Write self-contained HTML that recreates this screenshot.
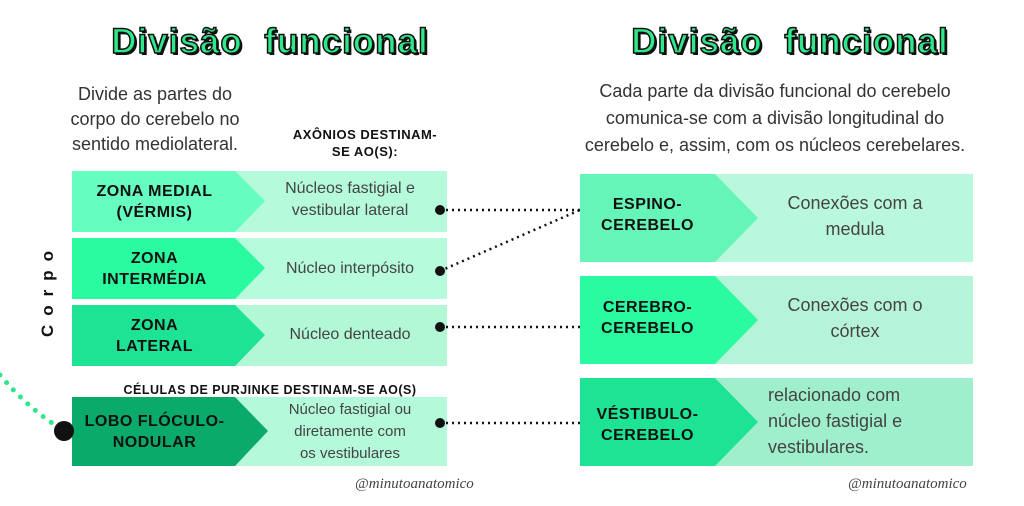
<html><head><style>
body{margin:0;width:1024px;height:506px;background:#fff;position:relative;overflow:hidden;font-family:"Liberation Sans",sans-serif}
.a{position:absolute}
.t{font-weight:bold;font-size:35px;color:#2ee88a;-webkit-text-stroke:1.5px #111;text-shadow:2px 2px 0 #111;letter-spacing:1px;text-align:center}
.p{font-size:18px;color:#333;text-align:center;line-height:25px}
.b{font-weight:bold;color:#111;text-align:center;font-size:16px;line-height:21px;letter-spacing:0.5px}
.r{font-size:16px;color:#444;text-align:center;line-height:22px}
</style></head><body>
<svg class="a" style="left:0;top:0" width="1024" height="506">
<g>
<rect x="72" y="171" width="375" height="61" fill="#b4fadb"/><polygon points="72,171 235,171 265,201 235,232 72,232" fill="#66fdc0"/>
<rect x="72" y="238" width="375" height="61" fill="#b6fbdc"/><polygon points="72,238 235,238 265,268 235,299 72,299" fill="#2afba0"/>
<rect x="72" y="305" width="375" height="61" fill="#b2f7d6"/><polygon points="72,305 235,305 265,335 235,366 72,366" fill="#1de394"/>
<rect x="72" y="397" width="375" height="69" fill="#b3f9da"/><polygon points="72,397 235,397 268,431 235,466 72,466" fill="#0aaa6a"/>
<rect x="580" y="174" width="393" height="88" fill="#b9f8dc"/><polygon points="580,174 715,174 758,218 715,262 580,262" fill="#66f5b8"/>
<rect x="580" y="276" width="393" height="88" fill="#b6f4d9"/><polygon points="580,276 715,276 758,320 715,364 580,364" fill="#2afba0"/>
<rect x="580" y="378" width="393" height="88" fill="#a0efcc"/><polygon points="580,378 715,378 758,422 715,466 580,466" fill="#1de394"/>
</g>
<g stroke="#111" stroke-width="2.5" stroke-dasharray="2 4" fill="none">
<line x1="440" y1="210" x2="580" y2="210"/>
<line x1="440" y1="271" x2="580" y2="210"/>
<line x1="440" y1="327" x2="580" y2="327"/>
<line x1="440" y1="423" x2="580" y2="423"/>
</g>
<g fill="#111"><circle cx="440" cy="210" r="5"/><circle cx="440" cy="271" r="5"/><circle cx="440" cy="327" r="5"/><circle cx="440" cy="423" r="5"/><circle cx="64" cy="431" r="10"/></g>
<path d="M0,375 Q25,405 55,425" stroke="#2ee88a" stroke-width="5" stroke-linecap="round" stroke-dasharray="0 10" fill="none"/>
</svg>
<div class="a t" style="left:60px;top:22px;width:420px">Divisão&nbsp; funcional</div>
<div class="a t" style="left:585px;top:22px;width:410px">Divisão&nbsp; funcional</div>
<div class="a p" style="left:45px;top:82px;width:220px">Divide as partes do<br>corpo do cerebelo no<br>sentido mediolateral.</div>
<div class="a b" style="left:275px;top:126px;width:180px;font-size:13px;line-height:17px">AXÔNIOS DESTINAM-<br>SE AO(S):</div>
<div class="a p" style="left:530px;top:78px;width:490px;line-height:27px">Cada parte da divisão funcional do cerebelo<br>comunica-se com a divisão longitudinal do<br>cerebelo e, assim, com os núcleos cerebelares.</div>
<div class="a b" style="left:72px;top:181px;width:165px">ZONA MEDIAL<br>(VÉRMIS)</div>
<div class="a b" style="left:72px;top:248px;width:165px">ZONA<br>INTERMÉDIA</div>
<div class="a b" style="left:72px;top:315px;width:165px">ZONA<br>LATERAL</div>
<div class="a b" style="left:72px;top:411px;width:165px">LOBO FLÓCULO-<br>NODULAR</div>
<div class="a b" style="left:95px;top:380px;width:350px;font-size:12.5px">CÉLULAS DE PURJINKE DESTINAM-SE AO(S)</div>
<div class="a r" style="left:265px;top:178px;width:170px">Núcleos fastigial e<br>vestibular lateral</div>
<div class="a r" style="left:265px;top:258px;width:170px">Núcleo interpósito</div>
<div class="a r" style="left:265px;top:324px;width:170px">Núcleo denteado</div>
<div class="a r" style="left:265px;top:399px;width:170px;font-size:15px;line-height:22px">Núcleo fastigial ou<br>diretamente com<br>os vestibulares</div>
<div class="a b" style="left:580px;top:194px;width:135px">ESPINO-<br>CEREBELO</div>
<div class="a b" style="left:580px;top:297px;width:135px">CEREBRO-<br>CEREBELO</div>
<div class="a b" style="left:580px;top:404px;width:135px">VÉSTIBULO-<br>CEREBELO</div>
<div class="a r" style="left:755px;top:190px;width:200px;font-size:18px;line-height:26px">Conexões com a<br>medula</div>
<div class="a r" style="left:755px;top:292px;width:200px;font-size:18px;line-height:26px">Conexões com o<br>córtex</div>
<div class="a r" style="left:768px;top:382px;width:200px;font-size:18px;line-height:26px;text-align:left">relacionado com<br>núcleo fastigial e<br>vestibulares.</div>
<div class="a" style="left:38px;top:232px;width:20px;height:105px"><div style="transform:rotate(-90deg);transform-origin:left top;position:absolute;left:0;top:105px;width:105px;font-weight:bold;font-size:17px;letter-spacing:9px;color:#111">Corpo</div></div>
<div class="a" style="left:355px;top:476px;font-family:'Liberation Serif',serif;font-style:italic;font-size:15px;color:#444">@minutoanatomico</div>
<div class="a" style="left:848px;top:476px;font-family:'Liberation Serif',serif;font-style:italic;font-size:15px;color:#444">@minutoanatomico</div>
</body></html>
